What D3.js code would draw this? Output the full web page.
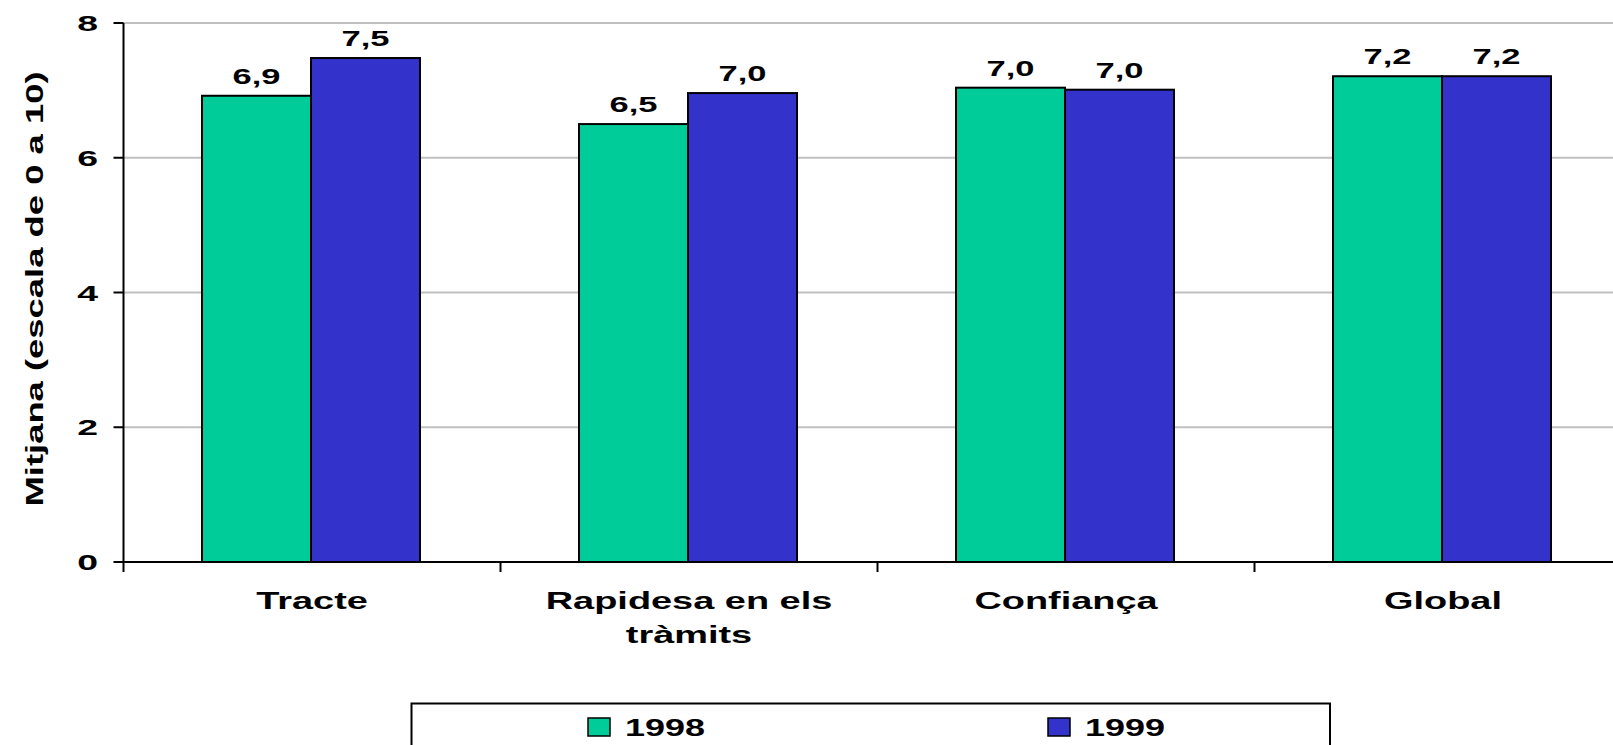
<!DOCTYPE html>
<meta charset="utf-8">
<style>
  body { margin: 0; background: #fff; }
  text { font-family: "Liberation Sans", Arial, sans-serif; font-weight: bold; fill: #000; }
</style>
<body>
<div id="chart"></div>
<script src="https://d3js.org/d3.v7.min.js"></script>
<script>

// data
const categories = [["Tracte"], ["Rapidesa en els", "tràmits"], ["Confiança"], ["Global"]];
const years = ["1998", "1999"];
const values1998 = [6.92, 6.50, 7.04, 7.21];
const values1999 = [7.48, 6.96, 7.01, 7.21];
const labels1998 = ["6,9", "6,5", "7,0", "7,2"];
const labels1999 = ["7,5", "7,0", "7,0", "7,2"];
const yTicks = [0, 2, 4, 6, 8];
const colors = ["#00cc99", "#3333cc"];

const W = 1613, H = 745;
const plotLeft = 123.5, plotTop = 23, plotBottom = 562;
const band = 377;     // width of one category
const barW = 109;
const stretch = 1.58; // the original text is drawn wide

const svg = d3.select("#chart").append("svg")
  .attr("width", W).attr("height", H);

const x = d3.scaleBand()
  .domain(d3.range(categories.length))
  .range([plotLeft, plotLeft + band * categories.length])
  .padding(0);

const y = d3.scaleLinear().domain([0, 8]).range([plotBottom, plotTop]);

function wideText(g, tx, ty, txt, size, anchor, sx, rot) {
  return g.append("text")
    .attr("transform", `translate(${tx},${ty})` + (rot ? ` rotate(${rot})` : "") + ` scale(${sx},1)`)
    .attr("text-anchor", anchor)
    .attr("font-size", size + "px")
    .text(txt);
}

// gridlines
svg.append("g").selectAll("line")
  .data(yTicks.filter(d => d > 0))
  .join("line")
    .attr("x1", plotLeft).attr("x2", W)
    .attr("y1", d => y(d)).attr("y2", d => y(d))
    .attr("stroke", "#c0c0c0").attr("stroke-width", 2);

// bars
const series = [values1998, values1999];
series.forEach((vals, s) => {
  svg.append("g").selectAll("rect")
    .data(vals)
    .join("rect")
      .attr("x", (d, i) => x(i) + x.bandwidth() / 2 - 1 - barW + s * barW)
      .attr("y", d => y(d))
      .attr("width", barW)
      .attr("height", d => y(0) - y(d))
      .attr("fill", colors[s])
      .attr("stroke", "#000")
      .attr("stroke-width", 2);
});

// value labels
const labelSets = [labels1998, labels1999];
const lab = svg.append("g");
series.forEach((vals, s) => {
  vals.forEach((v, i) => {
    const cx = x(i) + x.bandwidth() / 2 - 1 - barW / 2 + s * barW;
    wideText(lab, cx, y(v) - 12, labelSets[s][i], 23, "middle", 1.5);
  });
});

// y axis
svg.append("line")
  .attr("x1", plotLeft).attr("x2", plotLeft)
  .attr("y1", y(8)).attr("y2", y(0))
  .attr("stroke", "#000").attr("stroke-width", 2);
const ya = svg.append("g");
yTicks.forEach(t => {
  ya.append("line")
    .attr("x1", plotLeft - 10).attr("x2", plotLeft)
    .attr("y1", y(t)).attr("y2", y(t))
    .attr("stroke", "#000").attr("stroke-width", 2);
  wideText(ya, 98, y(t) + 8, t, 22, "end", 1.7);
});

// x axis
svg.append("line")
  .attr("x1", plotLeft).attr("x2", W)
  .attr("y1", y(0)).attr("y2", y(0))
  .attr("stroke", "#000").attr("stroke-width", 2);
const xa = svg.append("g");
d3.range(categories.length + 1).forEach(i => {
  const tx = plotLeft + i * band;
  xa.append("line")
    .attr("x1", tx).attr("x2", tx)
    .attr("y1", y(0)).attr("y2", y(0) + 10)
    .attr("stroke", "#000").attr("stroke-width", 2);
});
categories.forEach((lines, i) => {
  lines.forEach((ln, k) => {
    wideText(xa, x(i) + x.bandwidth() / 2, 609 + k * 34, ln, 24, "middle", stretch);
  });
});

// y title
wideText(svg, 43, 289, "Mitjana (escala de 0 a 10)", 23.5, "middle", 1.55, -90);

// legend
const lg = svg.append("g");
lg.append("rect")
  .attr("x", 411.5).attr("y", 703.5)
  .attr("width", 918.5).attr("height", 60)
  .attr("fill", "#fff").attr("stroke", "#000").attr("stroke-width", 2);
const legX = [588, 1048];
years.forEach((yr, s) => {
  lg.append("rect")
    .attr("x", legX[s]).attr("y", 718)
    .attr("width", 22).attr("height", 18)
    .attr("fill", colors[s]).attr("stroke", "#000").attr("stroke-width", 1.5);
  wideText(lg, legX[s] + 37, 736, yr, 24, "start", 1.5);
});

</script>
</body>
